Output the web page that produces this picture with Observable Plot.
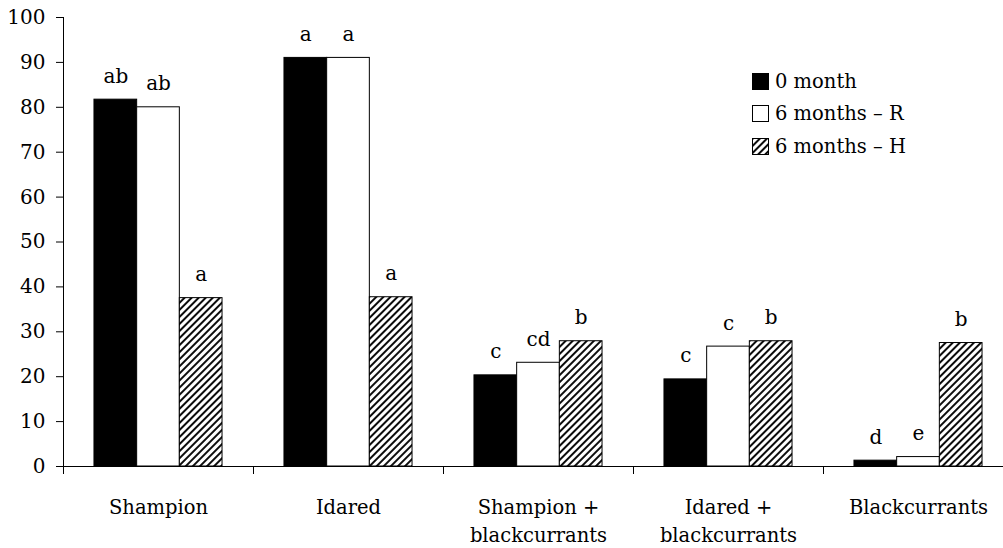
<!DOCTYPE html>
<html>
<head>
<meta charset="utf-8">
<script src="https://cdn.jsdelivr.net/npm/d3@7"></script>
<script src="https://cdn.jsdelivr.net/npm/@observablehq/plot@0.6"></script>
<style>
  html, body { margin: 0; padding: 0; background: #fff; }
  #wrap { position: relative; width: 1003px; height: 548px; }
  #legend { position: absolute; left: 752px; top: 65px; font-family: "DejaVu Serif", serif; font-size: 19.5px; color: #000; }
  #legend .row { display: flex; align-items: center; height: 32.5px; }
  #legend svg { margin-right: 6px; }
</style>
</head>
<body>
<div id="wrap"><div id="legend"></div></div>
<script>
// ---- data ----
const categories = ["Shampion", "Idared", "Shampion +\nblackcurrants", "Idared +\nblackcurrants", "Blackcurrants"];
const series = ["0 month", "6 months – R", "6 months – H"];
const values0 = [81.7, 91.0, 20.3, 19.4, 1.3];
const valuesR = [80.0, 91.0, 23.1, 26.7, 2.1];
const valuesH = [37.5, 37.7, 27.9, 27.9, 27.5];
const letters0 = ["ab", "a", "c", "c", "d"];
const lettersR = ["ab", "a", "cd", "c", "e"];
const lettersH = ["a", "a", "b", "b", "b"];
const yTicks = [0, 10, 20, 30, 40, 50, 60, 70, 80, 90, 100];

// ---- table ----
const seriesValues = [values0, valuesR, valuesH];
const seriesLetters = [letters0, lettersR, lettersH];
const fills = ["black", "white", "url(#hatch)"];
const groupPad = 0.163;           // fraction of each category cell left empty on each side
const barW = (1 - 2 * groupPad) / series.length;
const table = categories.flatMap((c, i) => series.map((s, j) => ({
  cat: c, i, series: s, j,
  value: seriesValues[j][i],
  letter: seriesLetters[j][i],
  x1: i + groupPad + j * barW,
  x2: i + groupPad + (j + 1) * barW
})));

const font = "'DejaVu Serif', serif";

const plot = Plot.plot({
  width: 1003,
  height: 548,
  marginLeft: 63,
  marginRight: -10,
  marginTop: 17,
  marginBottom: 82,
  style: { fontFamily: font, fontSize: "19px", color: "black", background: "white", overflow: "hidden" },
  x: { domain: [0, categories.length], axis: null },
  y: { domain: [0, 100], axis: null },
  marks: [
    ...series.map((s, j) => Plot.rectY(table.filter(d => d.j === j), {
      x1: "x1", x2: "x2", y1: 0, y2: "value",
      fill: fills[j], stroke: "black", strokeWidth: 1
    })),
    Plot.text(table, {
      x: d => (d.x1 + d.x2) / 2, y: "value", text: "letter",
      lineAnchor: "bottom", dy: -17, fontSize: 20, fill: "black"
    }),
    Plot.axisY({ ticks: yTicks, tickSize: 7, tickPadding: 11, fontSize: 20, label: null, stroke: "black" }),
    Plot.ruleX([0], { stroke: "black" }),
    Plot.ruleY([0], { stroke: "black" }),
    Plot.axisX({ ticks: categories.map((_, i) => i), tickSize: 8, tickFormat: () => "", label: null, stroke: "black" }),
    Plot.axisX({ ticks: categories.map((_, i) => i + 0.5), tickSize: 0, tickPadding: 27,
      tickFormat: v => categories[Math.floor(v)], lineHeight: 1.45, fontSize: 19.5, label: null })
  ]
});

// hatch pattern definition
const ns = "http://www.w3.org/2000/svg";
function makePattern(id) {
  const defs = document.createElementNS(ns, "defs");
  const pat = document.createElementNS(ns, "pattern");
  pat.setAttribute("id", id);
  pat.setAttribute("patternUnits", "userSpaceOnUse");
  pat.setAttribute("width", "5");
  pat.setAttribute("height", "5");
  pat.setAttribute("patternTransform", "rotate(45)");
  const bg = document.createElementNS(ns, "rect");
  bg.setAttribute("width", "5"); bg.setAttribute("height", "5"); bg.setAttribute("fill", "white");
  const ln = document.createElementNS(ns, "line");
  ln.setAttribute("x1", "1"); ln.setAttribute("y1", "0"); ln.setAttribute("x2", "1"); ln.setAttribute("y2", "5");
  ln.setAttribute("stroke", "black"); ln.setAttribute("stroke-width", "1.9");
  pat.appendChild(bg); pat.appendChild(ln); defs.appendChild(pat);
  return defs;
}
plot.insertBefore(makePattern("hatch"), plot.firstChild);
document.getElementById("wrap").prepend(plot);

// legend
const legend = document.getElementById("legend");
series.forEach((s, j) => {
  const row = document.createElement("div");
  row.className = "row";
  const sw = document.createElementNS(ns, "svg");
  sw.setAttribute("width", "17"); sw.setAttribute("height", "17");
  if (j === 2) sw.appendChild(makePattern("hatchLegend"));
  const r = document.createElementNS(ns, "rect");
  r.setAttribute("x", "0.5"); r.setAttribute("y", "0.5"); r.setAttribute("width", "16"); r.setAttribute("height", "16");
  r.setAttribute("fill", j === 2 ? "url(#hatchLegend)" : fills[j]);
  r.setAttribute("stroke", "black");
  sw.appendChild(r);
  row.appendChild(sw);
  const t = document.createElement("span");
  t.textContent = s;
  row.appendChild(t);
  legend.appendChild(row);
});
</script>
</body>
</html>
